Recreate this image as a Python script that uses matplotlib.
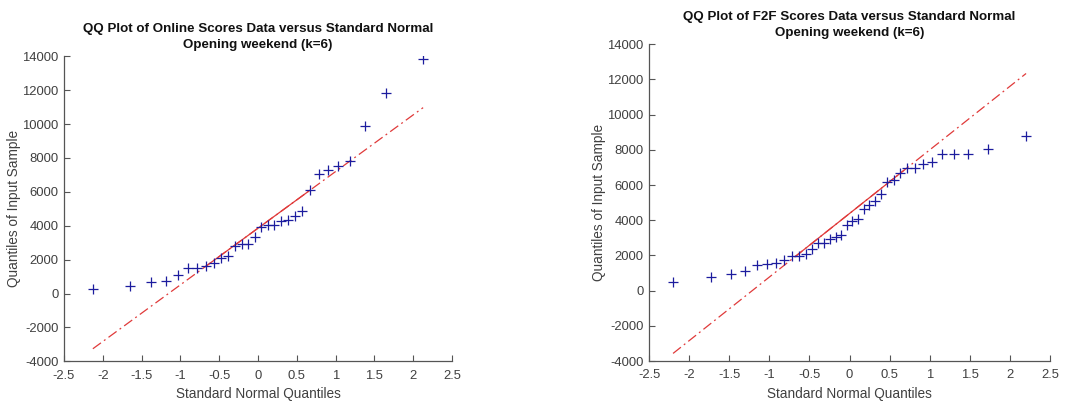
import numpy as np
import matplotlib
matplotlib.use("Agg")
import matplotlib.pyplot as plt
from statistics import NormalDist

plt.rcParams['font.family'] = ['Liberation Sans', 'DejaVu Sans']
plt.rcParams['axes.unicode_minus'] = False

# Sorted opening-weekend scores
online_scores = [295, 452, 668, 747, 1100, 1494, 1513, 1600, 1828, 2103,
                 2201, 2791, 2928, 2948, 3342, 3931, 4069, 4069, 4265, 4324,
                 4580, 4855, 6110, 7040, 7310, 7550, 7805, 9870, 11820, 13860]
f2f_scores = [511, 794, 927, 1116, 1437, 1532, 1589, 1721, 1948, 1948,
              2099, 2345, 2704, 2704, 2950, 3064, 3177, 3707, 3934, 4047,
              4614, 4841, 5087, 5469, 6190, 6303, 6701, 6948, 6948, 7213,
              7327, 7770, 7790, 7790, 8047, 8806]

titles = ["QQ Plot of Online Scores Data versus Standard Normal\nOpening weekend (k=6)",
          "QQ Plot of F2F Scores Data versus Standard Normal\nOpening weekend (k=6)"]
x_ticks = [-2.5, -2, -1.5, -1, -0.5, 0, 0.5, 1, 1.5, 2, 2.5]
y_ticks = list(range(-4000, 14001, 2000))

TXT = '#404040'
BLUE = '#1c1c9e'
RED = '#e03a3a'


def prctile(sorted_y, p):
    # percentile with plotting positions (i-0.5)/n and linear interpolation
    n = len(sorted_y)
    pos = p / 100.0 * n + 0.5
    lo = int(np.floor(pos))
    frac = pos - lo
    lo = min(max(lo, 1), n)
    hi = min(lo + 1, n)
    return sorted_y[lo - 1] + frac * (sorted_y[hi - 1] - sorted_y[lo - 1])


def qqplot(ax, data, title, ylab_x):
    y = np.sort(np.asarray(data, dtype=float))
    n = len(y)
    nd = NormalDist()
    x = np.array([nd.inv_cdf((i - 0.5) / n) for i in range(1, n + 1)])
    ax.plot(x, y, '+', color=BLUE, ms=7.5, mew=0.9, zorder=3)

    q1x, q3x = nd.inv_cdf(0.25), nd.inv_cdf(0.75)
    q1y, q3y = prctile(y, 25), prctile(y, 75)
    slope = (q3y - q1y) / (q3x - q1x)
    line = lambda t: q1y + slope * (t - q1x)
    ax.plot([q1x, q3x], [line(q1x), line(q3x)], '-', color=RED, lw=0.9, zorder=2)
    ax.plot([x[0], x[-1]], [line(x[0]), line(x[-1])], linestyle=(0, (8, 3, 1.5, 3)),
            color=RED, lw=0.9, zorder=2)

    ax.set_xlim(-2.5, 2.5)
    ax.set_ylim(-4000, 14000)
    ax.set_xticks(x_ticks)
    ax.set_yticks(y_ticks)
    ax.set_xticklabels(['%g' % v for v in x_ticks])
    ax.set_yticklabels(['%d' % v for v in y_ticks])
    for s in ('top', 'right'):
        ax.spines[s].set_visible(False)
    for s in ('left', 'bottom'):
        ax.spines[s].set_color('#555555')
        ax.spines[s].set_linewidth(0.9)
    ax.tick_params(direction='in', length=4, width=0.8, colors='#555555',
                   labelcolor=TXT, labelsize=9.4)
    ax.tick_params(axis='x', pad=6)
    ax.tick_params(axis='y', pad=4)
    ax.set_xlabel('Standard Normal Quantiles', color=TXT, fontsize=9.8, labelpad=4)
    ax.set_ylabel('Quantiles of Input Sample', color=TXT, fontsize=9.8)
    ax.yaxis.set_label_coords(ylab_x, 0.5)
    ax.set_title(title, fontsize=9.6, fontweight='bold', color='#111111',
                 linespacing=1.45, pad=6)


fig = plt.figure(figsize=(10.81, 4.05), dpi=100)
ax1 = fig.add_axes([0.0592, 0.1079, 0.3589, 0.7531])
ax2 = fig.add_axes([0.6004, 0.1086, 0.3710, 0.7820])
qqplot(ax1, online_scores, titles[0], -0.111)
qqplot(ax2, f2f_scores, titles[1], -0.107)

fig.savefig('out.png', dpi=100, facecolor='white')
